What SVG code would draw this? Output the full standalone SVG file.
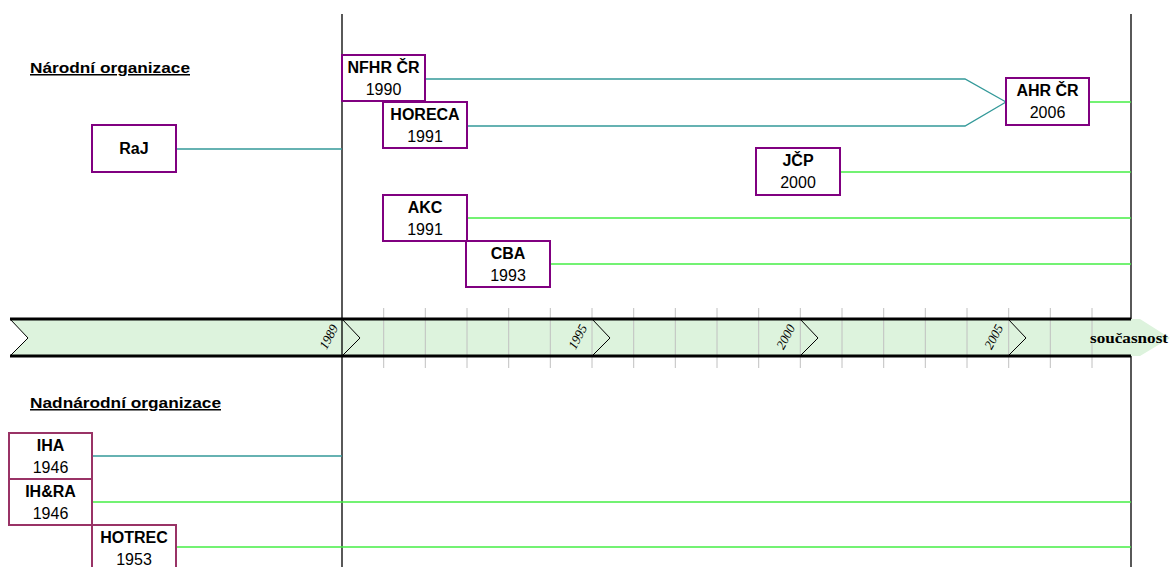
<svg xmlns="http://www.w3.org/2000/svg" width="1171" height="567" viewBox="0 0 1171 567">
<style>
.box{fill:#fff;stroke:#800080;stroke-width:2}
.box2{fill:#fff;stroke:#993366;stroke-width:2}
.nm{font-family:"Liberation Sans",Arial,sans-serif;font-size:16px;font-weight:bold;text-anchor:middle;fill:#000}
.yr{font-family:"Liberation Sans",Arial,sans-serif;font-size:16px;text-anchor:middle;fill:#000}
.hd{font-family:"Liberation Sans",Arial,sans-serif;font-size:15px;font-weight:bold;text-decoration:underline;fill:#000}
.teal{stroke:#339999;stroke-width:1.3;fill:none}
.green{stroke:#44ee44;stroke-width:1.3;fill:none}
.tick{stroke:#c0c0c0;stroke-width:1}
.ax{font-family:"Liberation Serif",serif;font-style:italic;font-size:13px;text-anchor:middle;fill:#000}
</style>
<rect width="1171" height="567" fill="#fff"/>
<g id="timeline">
<path d="M10,319 L1131,319 L1140,319 L1170,338 L1140,356 L10,356 L28,338 Z" fill="#ddf3dd"/>
<g class="tick">
<line x1="383.7" y1="308" x2="383.7" y2="368"/>
<line x1="425.3" y1="308" x2="425.3" y2="368"/>
<line x1="467" y1="308" x2="467" y2="368"/>
<line x1="508.7" y1="308" x2="508.7" y2="368"/>
<line x1="550.3" y1="308" x2="550.3" y2="368"/>
<line x1="592" y1="308" x2="592" y2="368"/>
<line x1="633.7" y1="308" x2="633.7" y2="368"/>
<line x1="675.3" y1="308" x2="675.3" y2="368"/>
<line x1="717" y1="308" x2="717" y2="368"/>
<line x1="758.7" y1="308" x2="758.7" y2="368"/>
<line x1="800.3" y1="308" x2="800.3" y2="368"/>
<line x1="842" y1="308" x2="842" y2="368"/>
<line x1="883.7" y1="308" x2="883.7" y2="368"/>
<line x1="925.3" y1="308" x2="925.3" y2="368"/>
<line x1="967" y1="308" x2="967" y2="368"/>
<line x1="1008.7" y1="308" x2="1008.7" y2="368"/>
<line x1="1050.3" y1="308" x2="1050.3" y2="368"/>
<line x1="1092" y1="308" x2="1092" y2="368"/>
</g>
<path d="M10,319 L1131,319 M10,356 L1131,356" stroke="#000" stroke-width="3" fill="none"/>
<path d="M10,319 L28,338 L10,356 M342,319 L360,338 L342,356 M592,319 L610,338 L592,356 M800,319 L818,338 L800,356 M1008,319 L1026,338 L1008,356" stroke="#000" stroke-width="1" fill="none"/>
<text class="ax" transform="translate(329,337) rotate(-62)" y="4">1989</text>
<text class="ax" transform="translate(578,337) rotate(-62)" y="4">1995</text>
<text class="ax" transform="translate(786,337) rotate(-62)" y="4">2000</text>
<text class="ax" transform="translate(994,337) rotate(-62)" y="4">2005</text>
<text x="1090" y="343" font-family="Liberation Serif,serif" font-weight="bold" font-size="14" textLength="78" lengthAdjust="spacingAndGlyphs">současnost</text>
<path d="M342,14 L342,567 M1131,14 L1131,319 M1131,356 L1131,567" stroke="#000" stroke-width="1.3" fill="none"/>
</g>
<text class="hd" x="30" y="73" textLength="160" lengthAdjust="spacingAndGlyphs">Národní organizace</text>
<text class="hd" x="30" y="408" textLength="191" lengthAdjust="spacingAndGlyphs">Nadnárodní organizace</text>
<g id="connectors">
<path class="teal" d="M425,79 L965,79 L1006,102"/>
<path class="teal" d="M467,126 L965,126 L1006,102"/>
<path class="green" d="M1089,102 L1131,102"/>
<path class="teal" d="M176,149 L342,149"/>
<path class="green" d="M840,172 L1131,172"/>
<path class="green" d="M467,218 L1131,218"/>
<path class="green" d="M550,264 L1131,264"/>
<path class="teal" d="M92,456 L342,456"/>
<path class="green" d="M92,502 L1131,502"/>
<path class="green" d="M176,547 L1131,547"/>
</g>
<g id="RaJ"><rect class="box" x="92" y="125" width="84" height="47"/><text class="nm" x="134" y="154">RaJ</text></g>
<g id="NFHR"><rect class="box" x="342" y="55" width="83" height="46"/><text class="nm" x="383.5" y="73">NFHR ČR</text><text class="yr" x="383.5" y="95">1990</text></g>
<g id="HORECA"><rect class="box" x="383" y="102" width="84" height="46"/><text class="nm" x="425" y="120">HORECA</text><text class="yr" x="425" y="142">1991</text></g>
<g id="AHR"><rect class="box" x="1006" y="78" width="83" height="47"/><text class="nm" x="1047.5" y="96">AHR ČR</text><text class="yr" x="1047.5" y="118">2006</text></g>
<g id="JCP"><rect class="box" x="756" y="148" width="84" height="47"/><text class="nm" x="798" y="166">JČP</text><text class="yr" x="798" y="188">2000</text></g>
<g id="AKC"><rect class="box" x="383" y="195" width="84" height="46"/><text class="nm" x="425" y="213">AKC</text><text class="yr" x="425" y="235">1991</text></g>
<g id="CBA"><rect class="box" x="466" y="241" width="84" height="46"/><text class="nm" x="508" y="259">CBA</text><text class="yr" x="508" y="281">1993</text></g>
<g id="IHA"><rect class="box2" x="9" y="433" width="83" height="46"/><text class="nm" x="50.5" y="451">IHA</text><text class="yr" x="50.5" y="473">1946</text></g>
<g id="IHRA"><rect class="box2" x="9" y="479" width="83" height="46"/><text class="nm" x="50.5" y="497">IH&amp;RA</text><text class="yr" x="50.5" y="519">1946</text></g>
<g id="HOTREC"><rect class="box2" x="92" y="525" width="84" height="46"/><text class="nm" x="134" y="543">HOTREC</text><text class="yr" x="134" y="565">1953</text></g>
</svg>
